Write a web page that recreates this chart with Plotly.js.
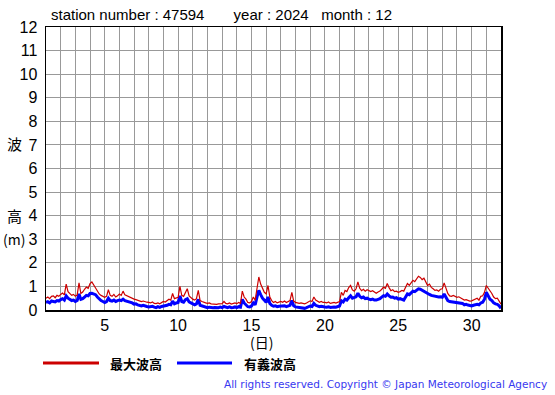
<!DOCTYPE html>
<html><head><meta charset="utf-8">
<script src="https://cdn.plot.ly/plotly-3.0.1.min.js"></script>
<style>body{margin:0;padding:0;background:#fff}#chart{width:555px;height:395px}</style>
</head><body><div id="chart"></div>
<script>
// 3-hourly values, day 1 00h .. day 32 00h
const maxWave = [
0.50,0.55,0.48,0.58,0.60,0.52,0.62,0.58,
0.66,0.72,0.64,1.10,0.78,0.70,0.62,0.66,
0.58,0.64,1.15,0.70,0.76,0.88,0.97,0.92,
1.12,1.19,1.05,0.97,0.82,0.68,0.62,0.56,
0.54,0.58,0.86,0.62,0.58,0.66,0.55,0.60,
0.68,0.62,0.80,0.64,0.60,0.58,0.52,0.50,
0.46,0.44,0.42,0.38,0.36,0.38,0.34,0.33,
0.32,0.30,0.34,0.28,0.27,0.30,0.26,0.30,
0.36,0.34,0.40,0.46,0.42,0.70,0.48,0.52,
0.54,1.00,0.62,0.58,0.75,0.90,0.60,0.52,
0.46,0.42,0.48,0.83,0.40,0.36,0.32,0.30,
0.28,0.30,0.26,0.25,0.27,0.24,0.26,0.28,
0.27,0.36,0.28,0.26,0.30,0.25,0.28,0.30,
0.27,0.32,0.28,0.80,0.55,0.46,0.32,0.30,
0.36,0.55,0.42,0.90,1.40,1.10,0.90,0.75,
0.68,1.04,0.55,0.40,0.32,0.36,0.30,0.34,
0.36,0.33,0.38,0.32,0.35,0.40,0.75,0.38,
0.32,0.30,0.28,0.30,0.28,0.26,0.30,0.34,
0.39,0.36,0.55,0.42,0.38,0.33,0.36,0.32,
0.32,0.30,0.34,0.28,0.30,0.32,0.29,0.34,
0.36,0.75,0.62,0.83,0.78,0.95,1.04,0.85,
0.80,0.90,1.19,0.92,0.82,0.88,0.80,0.86,
0.83,0.78,0.82,0.75,0.71,0.76,0.80,0.88,
0.97,0.92,1.12,0.95,0.82,0.86,0.78,0.80,
0.75,0.78,0.83,0.80,0.95,1.12,1.05,1.15,
1.26,1.20,1.32,1.43,1.38,1.29,1.35,1.20,
1.04,1.10,0.96,0.90,0.83,0.85,0.80,0.88,
0.90,1.15,0.88,0.70,0.60,0.58,0.62,0.56,
0.54,0.56,0.50,0.48,0.42,0.44,0.40,0.38,
0.39,0.42,0.45,0.50,0.42,0.58,0.60,0.75,
1.04,0.92,0.85,0.70,0.55,0.48,0.50,0.38,
0.25];
const sigWave = [
0.32,0.35,0.30,0.38,0.36,0.34,0.40,0.38,
0.44,0.48,0.42,0.60,0.50,0.46,0.40,0.42,
0.36,0.40,0.68,0.45,0.48,0.55,0.62,0.60,
0.70,0.71,0.68,0.65,0.55,0.46,0.40,0.36,
0.32,0.36,0.50,0.40,0.38,0.42,0.36,0.40,
0.42,0.40,0.46,0.40,0.38,0.36,0.32,0.30,
0.25,0.26,0.22,0.20,0.17,0.20,0.16,0.15,
0.13,0.14,0.16,0.12,0.10,0.14,0.11,0.15,
0.17,0.16,0.20,0.24,0.22,0.38,0.26,0.30,
0.32,0.60,0.36,0.33,0.44,0.48,0.34,0.30,
0.25,0.22,0.26,0.45,0.20,0.17,0.14,0.12,
0.10,0.12,0.10,0.10,0.11,0.09,0.10,0.12,
0.10,0.15,0.11,0.10,0.13,0.10,0.11,0.13,
0.10,0.14,0.12,0.45,0.30,0.22,0.14,0.13,
0.17,0.30,0.22,0.55,0.83,0.65,0.50,0.42,
0.32,0.55,0.28,0.20,0.16,0.18,0.14,0.16,
0.17,0.15,0.18,0.14,0.16,0.20,0.40,0.18,
0.13,0.12,0.10,0.11,0.10,0.07,0.10,0.13,
0.17,0.15,0.28,0.20,0.17,0.14,0.16,0.13,
0.13,0.12,0.14,0.11,0.13,0.13,0.12,0.15,
0.17,0.39,0.34,0.46,0.42,0.52,0.60,0.50,
0.54,0.56,0.71,0.58,0.52,0.55,0.48,0.50,
0.46,0.44,0.46,0.42,0.42,0.45,0.48,0.55,
0.61,0.58,0.68,0.60,0.54,0.55,0.50,0.52,
0.46,0.48,0.44,0.42,0.55,0.68,0.65,0.72,
0.80,0.78,0.84,0.90,0.88,0.83,0.80,0.74,
0.68,0.66,0.62,0.60,0.61,0.58,0.55,0.56,
0.54,0.68,0.50,0.40,0.36,0.35,0.36,0.34,
0.32,0.33,0.30,0.28,0.22,0.24,0.21,0.20,
0.17,0.20,0.22,0.24,0.22,0.30,0.33,0.46,
0.75,0.62,0.46,0.40,0.30,0.26,0.24,0.18,
0.07];
const xTickVals = [5,10,15,20,25,30];
const yTickVals = [0,1,2,3,4,5,6,7,8,9,10,11,12];
const seriesNames = ['最大波高','有義波高'];
const titleText = 'station number : 47594&nbsp;&nbsp;&nbsp;&nbsp;&nbsp;&nbsp;&nbsp;year : 2024&nbsp;&nbsp;&nbsp;month : 12';

const days = maxWave.map((_, i) => 1 + i / 8);

const L = 46, R = 501, T = 27, B = 310, W = 555, H = 395;
const px = x => (x - L) / (R - L);
const py = y => (B - y) / (B - T);

const font = 'Liberation Sans, Arial, sans-serif';
const cjk = 'Noto Sans CJK JP, sans-serif';

const traces = [
  {x: days, y: sigWave, type: 'scatter', mode: 'lines', name: seriesNames[1],
   line: {color: '#0000ff', width: 3}, showlegend: false},
  {x: days, y: maxWave, type: 'scatter', mode: 'lines', name: seriesNames[0],
   line: {color: '#cc0000', width: 1.2}, showlegend: false}
];

const layout = {
  width: W, height: H,
  margin: {l: L, r: W - R, t: T, b: H - B, pad: 0},
  paper_bgcolor: '#fff', plot_bgcolor: '#fff',
  xaxis: {range: [1, 32], tickmode: 'array', tickvals: xTickVals, ticks: '',
    showgrid: true, gridcolor: '#999', gridwidth: 1,
    minor: {tick0: 1, dtick: 1, showgrid: true, gridcolor: '#999', gridwidth: 1},
    showline: true, linecolor: '#000', linewidth: 1.5, mirror: true, zeroline: false,
    tickfont: {family: font, size: 16, color: '#000'}, fixedrange: true},
  yaxis: {range: [0, 12], tickmode: 'array', tickvals: yTickVals, ticks: '',
    showgrid: true, gridcolor: '#999', gridwidth: 1,
    showline: true, linecolor: '#000', linewidth: 1.5, mirror: true, zeroline: false,
    tickfont: {family: font, size: 16, color: '#000'}, ticklabelstandoff: 4, fixedrange: true},
  shapes: [
    {type: 'line', xref: 'paper', yref: 'paper', x0: px(43), x1: px(99), y0: py(363), y1: py(363),
     line: {color: '#cc0000', width: 3}},
    {type: 'line', xref: 'paper', yref: 'paper', x0: px(177), x1: px(232), y0: py(363), y1: py(363),
     line: {color: '#0000ff', width: 3}}
  ],
  annotations: [
    {text: titleText, xref: 'paper', yref: 'paper', x: px(49), y: py(15), xanchor: 'left', yanchor: 'middle',
     showarrow: false, font: {family: font, size: 15, color: '#000'}},
    {text: '波', xref: 'paper', yref: 'paper', x: px(14), y: py(143), xanchor: 'center', yanchor: 'middle',
     showarrow: false, font: {family: cjk, size: 15, color: '#000'}},
    {text: '高', xref: 'paper', yref: 'paper', x: px(14), y: py(215), xanchor: 'center', yanchor: 'middle',
     showarrow: false, font: {family: cjk, size: 15, color: '#000'}},
    {text: '(m)', xref: 'paper', yref: 'paper', x: px(14), y: py(239), xanchor: 'center', yanchor: 'middle',
     showarrow: false, font: {family: cjk, size: 14, color: '#000'}},
    {text: '(日)', xref: 'paper', yref: 'paper', x: px(261), y: py(342), xanchor: 'center', yanchor: 'middle',
     showarrow: false, font: {family: cjk, size: 14, color: '#000'}},
    {text: '<b>' + seriesNames[0] + '</b>', xref: 'paper', yref: 'paper', x: px(108), y: py(363), xanchor: 'left', yanchor: 'middle',
     showarrow: false, font: {family: cjk, size: 13, color: '#000'}},
    {text: '<b>' + seriesNames[1] + '</b>', xref: 'paper', yref: 'paper', x: px(242), y: py(363), xanchor: 'left', yanchor: 'middle',
     showarrow: false, font: {family: cjk, size: 13, color: '#000'}},
    {text: 'All rights reserved. Copyright © Japan Meteorological Agency', xref: 'paper', yref: 'paper',
     x: px(549), y: py(384), xanchor: 'right', yanchor: 'middle',
     showarrow: false, font: {family: 'DejaVu Sans, sans-serif', size: 10.5, color: '#3838f0'}}
  ]
};

Plotly.newPlot('chart', traces, layout, {displayModeBar: false, staticPlot: true});
</script>
</body></html>
